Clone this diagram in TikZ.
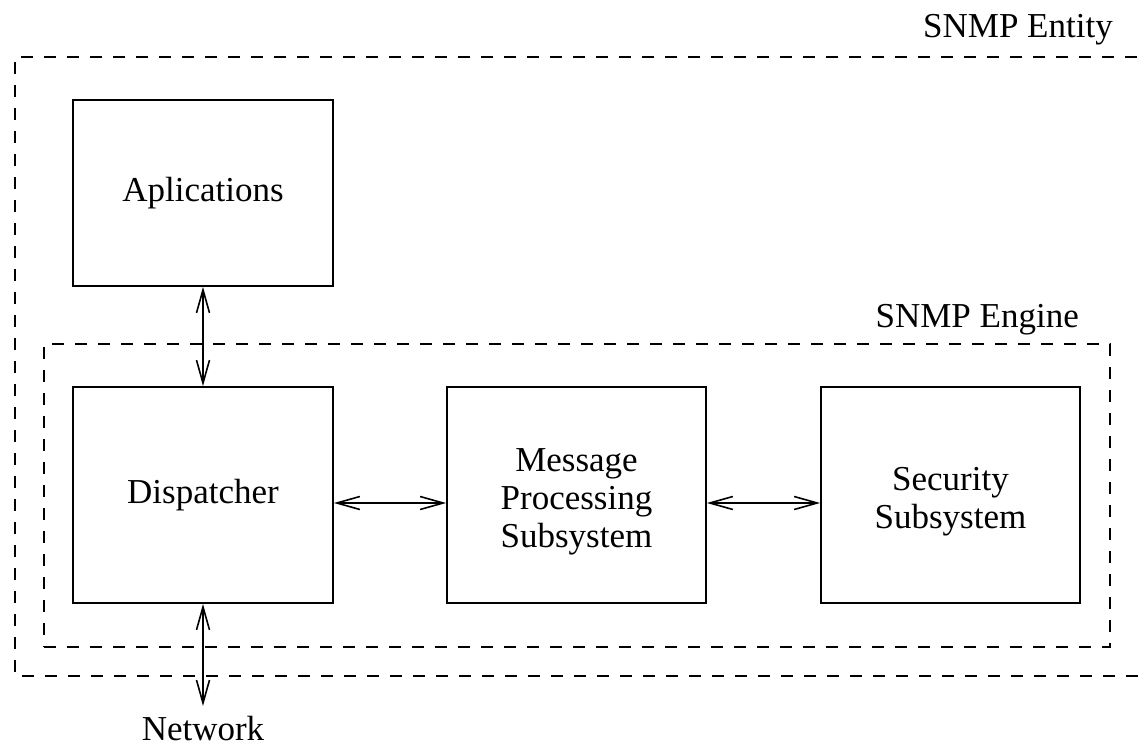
\documentclass[tikz,border=0pt]{standalone}
\usepackage{fontspec}
\setmainfont{Liberation Serif}
\usetikzlibrary{arrows.meta}
\begin{document}
\begin{tikzpicture}[x=1pt,y=-1pt,
  txt/.style={font=\fontsize{35}{38}\selectfont},
  box/.style={draw, line width=1.8pt, inner sep=0pt, align=center, txt},
  dashbox/.style={draw, line width=1.5pt, dash pattern=on 12pt off 11pt, inner sep=0pt},
  conn/.style={line width=1.5pt, {Straight Barb[length=23pt,width=13pt,line width=1.6pt]}-{Straight Barb[length=23pt,width=13pt,line width=1.6pt]}},
  lbl/.style={txt, inner sep=0pt, align=center}]
\useasboundingbox (0,0) rectangle (1144,749);
% outer SNMP entity (open on the right)
\draw[line width=1.5pt, dash pattern=on 12pt off 11pt] (1160,57) -- (15,57) -- (15,676) -- (1160,676);
\node[lbl, anchor=base east] (entity) at (1113,38) {SNMP Entity};
% engine
\node[dashbox, minimum width=1066pt, minimum height=303pt] (engine) at (577,495.5) {};
\node[lbl, anchor=base east] (enginelbl) at (1079,327) {SNMP Engine};
% boxes
\node[box, minimum width=260pt, minimum height=186pt] (app) at (203,193) {Aplications};
\node[box, minimum width=260pt, minimum height=216pt] (disp) at (203,495) {Dispatcher};
\node[box, minimum width=259pt, minimum height=216pt] (msg) at (576.5,495) {};
\node[lbl] (msgtxt) at ([yshift=-7pt]msg.center) {Message\\Processing\\Subsystem};
\node[box, minimum width=259pt, minimum height=216pt] (sec) at (950.5,495) {};
\node[lbl] (sectxt) at ([yshift=-7pt]sec.center) {Security\\Subsystem};
\node[lbl, anchor=base] (net) at (203,740) {Network};
\coordinate (nettip) at (203,706);
% connectors
\draw[conn] (app.south) -- (disp.north);
\draw[conn] ([yshift=-8pt]disp.east) -- ([yshift=-8pt]msg.west);
\draw[conn] ([yshift=-8pt]msg.east) -- ([yshift=-8pt]sec.west);
\draw[conn] (disp.south) -- (nettip);
\end{tikzpicture}
\end{document}
